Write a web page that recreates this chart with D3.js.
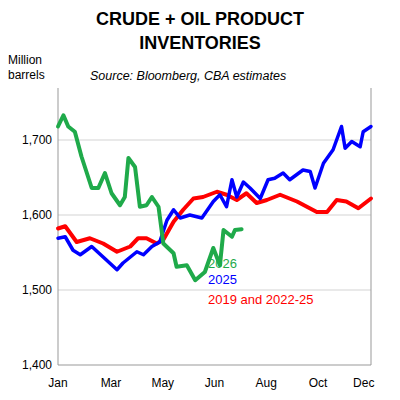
<!DOCTYPE html><html><head><meta charset="utf-8"><script src="https://cdn.jsdelivr.net/npm/d3@7"></script>
<style>body{margin:0;background:#fff}text{font-family:"Liberation Sans",Arial,sans-serif}</style></head><body><svg id="c" width="400" height="400"></svg><script>
const yTicks=[1400,1500,1600,1700];
const xTickLabels=["Jan","Mar","May","Jun","Aug","Oct","Dec"];
const xTickWeeks=[0,8.8,17.4,26,34.6,43.2,50.8];
const g26W=[0,0.9,1.7,2.8,3.9,5.6,6.7,7.8,8.9,10.3,11.1,11.7,12.8,13.6,14.7,15.6,16.7,17.5,19.2,19.7,21.4,22.8,24.4,25.8,26.9,27.5,28.9,29.4,30.5];
const g26V=[1718,1733,1718,1711,1678,1636,1636,1656,1629,1613,1624,1676,1664,1611,1613,1624,1611,1562,1549,1531,1533,1513,1524,1556,1533,1580,1571,1580,1581];
const b25W=[0,1.2,2.5,3.7,5.6,7.5,9.8,10.8,13.1,14.2,15.6,16.9,18.1,19.2,20.3,21.9,23.9,25.8,26.9,28,28.9,29.7,30.8,31.9,33.6,34.9,36,37.4,38.5,40.7,41.9,42.7,44.1,45.7,47.1,47.7,48.8,50.2,50.7,52];
const b25V=[1569,1571,1553,1547,1558,1544,1527,1536,1551,1547,1558,1564,1593,1607,1596,1600,1596,1618,1627,1611,1647,1624,1644,1636,1622,1647,1649,1656,1647,1660,1658,1636,1669,1687,1718,1689,1698,1691,1711,1718];
const rAvgW=[0,1.2,3.1,5.3,7.5,9.8,12,13.3,14.7,16.4,17.5,19.2,20.8,22.5,24.1,26.4,28,29.7,31.3,33,34.7,36.9,39.7,43,44.7,46.3,47.9,49.9,52];
const rAvgV=[1582,1585,1564,1569,1562,1551,1558,1569,1569,1562,1567,1591,1607,1622,1624,1631,1627,1620,1629,1616,1620,1627,1618,1604,1604,1620,1618,1609,1622];
const svg=d3.select("#c");
const x=d3.scaleLinear().domain([0,52]).range([58,371]);
const y=d3.scaleLinear().domain([1400,1700]).range([365,140]);
svg.append("text").attr("x",200).attr("y",25).attr("text-anchor","middle").attr("font-weight","bold").attr("font-size",18).text("CRUDE + OIL PRODUCT");
svg.append("text").attr("x",200).attr("y",49).attr("text-anchor","middle").attr("font-weight","bold").attr("font-size",18).text("INVENTORIES");
svg.append("text").attr("x",8).attr("y",64).attr("font-size",12).text("Million");
svg.append("text").attr("x",8).attr("y",79).attr("font-size",12).text("barrels");
svg.append("text").attr("x",90).attr("y",80).attr("font-size",12.5).attr("font-style","italic").text("Source: Bloomberg, CBA estimates");
svg.selectAll(".gl").data(yTicks.slice(1)).join("line").attr("x1",58).attr("x2",371).attr("y1",d=>y(d)).attr("y2",d=>y(d)).attr("stroke","#d4d4d4").attr("stroke-width",1.2);
svg.append("line").attr("x1",58).attr("x2",58).attr("y1",88).attr("y2",365).attr("stroke","#999");
svg.append("line").attr("x1",371).attr("x2",371).attr("y1",88).attr("y2",365).attr("stroke","#999");
svg.append("line").attr("x1",58).attr("x2",371).attr("y1",365).attr("y2",365).attr("stroke","#999");
svg.selectAll(".yt").data(yTicks).join("text").attr("x",52).attr("y",d=>y(d)+4).attr("text-anchor","end").attr("font-size",12).text(d=>d3.format(",")(d));
svg.selectAll(".xt").data(xTickWeeks).join("text").attr("x",d=>x(d)).attr("y",387).attr("text-anchor","middle").attr("font-size",12).text((d,i)=>xTickLabels[i]);
const line=d3.line().x(d=>x(d[0])).y(d=>y(d[1])).curve(d3.curveLinear);
function draw(W,V,c,w){svg.append("path").attr("d",line(W.map((d,i)=>[d,V[i]]))).attr("fill","none").attr("stroke",c).attr("stroke-width",w).attr("stroke-linejoin","round").attr("stroke-linecap","round");}
draw(rAvgW,rAvgV,"#ff0000",4);
draw(b25W,b25V,"#0000ff",3.5);
draw(g26W,g26V,"#1faa4a",4);
[["2026","#1faa4a",268],["2025","#0000ff",284],["2019 and 2022-25","#ff0000",304]].forEach(a=>svg.append("text").attr("x",208).attr("y",a[2]).attr("font-size",13).attr("fill",a[1]).text(a[0]));
</script></body></html>
